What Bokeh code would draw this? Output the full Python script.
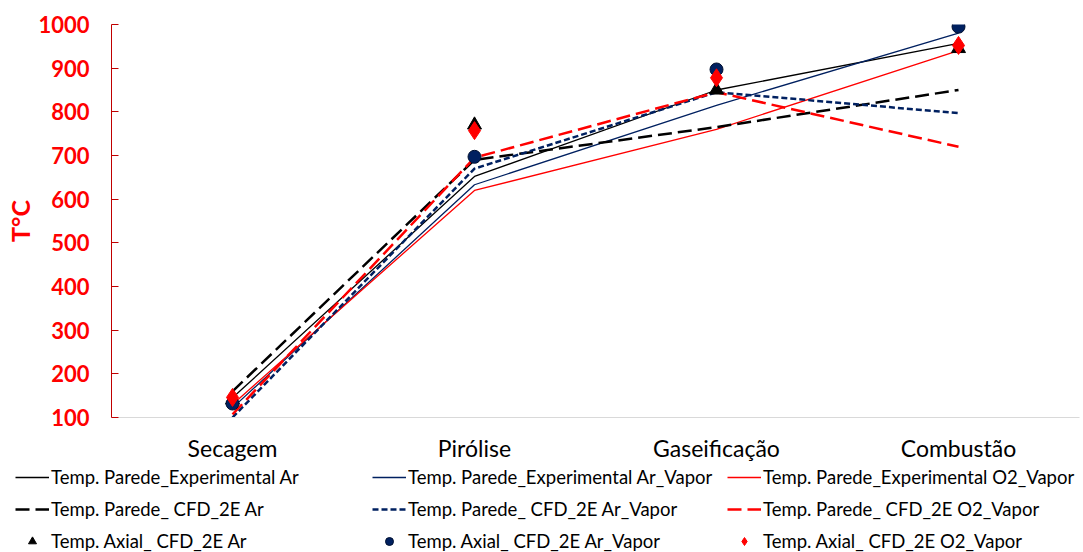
from bokeh.plotting import figure
from bokeh.models import Range1d, Legend, LegendItem
from bokeh.embed import file_html
from bokeh.resources import INLINE

categories = ["Secagem", "Pirólise", "Gaseificação", "Combustão"]

exp_ar = [145, 652, 850, 957]
exp_ar_vapor = [122, 633, 815, 980]
exp_o2_vapor = [130, 620, 760, 940]

cfd_ar = [160, 690, 765, 850]
cfd_ar_vapor = [100, 670, 845, 797]
cfd_o2_vapor = [107, 695, 845, 720]

axial_ar = [140, 770, 850, 945]
axial_ar_vapor = [132, 697, 897, 995]
axial_o2_vapor = [146, 757, 878, 952]

labels = [
    "Temp. Parede_Experimental Ar",
    "Temp. Parede_Experimental Ar_Vapor",
    "Temp. Parede_Experimental O2_Vapor",
    "Temp. Parede_ CFD_2E Ar",
    "Temp. Parede_ CFD_2E Ar_Vapor",
    "Temp. Parede_ CFD_2E O2_Vapor",
    "Temp. Axial_ CFD_2E Ar",
    "Temp. Axial_ CFD_2E Ar_Vapor",
    "Temp. Axial_ CFD_2E O2_Vapor",
]

NAVY = "#002060"
RED = "#FF0000"
BLACK = "#000000"
FONT = "Lato"

styles = [
    dict(kind="line", line_color=BLACK, line_width=1.3),
    dict(kind="line", line_color=NAVY, line_width=1.3),
    dict(kind="line", line_color=RED, line_width=1.3),
    dict(kind="line", line_color=BLACK, line_width=2.5, line_dash="14 6"),
    dict(kind="line", line_color=NAVY, line_width=2.5, line_dash="6 3"),
    dict(kind="line", line_color=RED, line_width=2.5, line_dash="14 6"),
    dict(kind="scatter", marker="triangle", size=14, fill_color=BLACK, line_color=BLACK),
    dict(kind="scatter", marker="circle", size=13, fill_color=NAVY, line_color="#001030"),
    dict(kind="scatter", marker="diamond", size=18, fill_color=RED, line_color=RED),
]
series = [exp_ar, exp_ar_vapor, exp_o2_vapor, cfd_ar, cfd_ar_vapor, cfd_o2_vapor,
          axial_ar, axial_ar_vapor, axial_o2_vapor]


def draw(fig, xs, ys, style):
    st = dict(style)
    kind = st.pop("kind")
    if kind == "line":
        return fig.line(xs, ys, **st)
    return fig.scatter(xs, ys, **st)


p = figure(x_range=categories, y_range=Range1d(100, 1000),
           width=1083, height=464, output_backend="svg", toolbar_location=None,
           min_border_left=111, min_border_right=4, min_border_top=24,
           min_border_bottom=47)
p.outline_line_color = None
p.xgrid.grid_line_color = None
p.ygrid.grid_line_color = None

p.yaxis.ticker = [100, 200, 300, 400, 500, 600, 700, 800, 900, 1000]
p.yaxis.axis_line_color = "#C00000"
p.yaxis.major_tick_line_color = "#C00000"
p.yaxis.major_tick_in = 7
p.yaxis.major_tick_out = 0
p.yaxis.minor_tick_line_color = None
p.yaxis.major_label_text_color = RED
p.yaxis.major_label_text_font = FONT
p.yaxis.major_label_text_font_style = "bold"
p.yaxis.major_label_text_font_size = "22px"
p.yaxis.major_label_standoff = 22
p.yaxis.axis_label = "T°C"
p.yaxis.axis_label_text_color = RED
p.yaxis.axis_label_text_font = FONT
p.yaxis.axis_label_text_font_style = "bold"
p.yaxis.axis_label_text_font_size = "25px"
p.yaxis.axis_label_standoff = 0

p.xaxis.axis_line_color = "#D9D9D9"
p.xaxis.major_tick_line_color = None
p.xaxis.major_tick_in = 0
p.xaxis.major_tick_out = 0
p.xaxis.minor_tick_line_color = None
p.xaxis.major_label_text_color = BLACK
p.xaxis.major_label_text_font = FONT
p.xaxis.major_label_text_font_size = "23px"
p.xaxis.major_label_standoff = 16

for ys, st in zip(series, styles):
    draw(p, categories, ys, st)

# Legend strip below the chart (separate root, so its frame spans the full width)
p2 = figure(x_range=Range1d(0, 1), y_range=Range1d(0, 1), width=1083, height=88,
            output_backend="svg", toolbar_location=None,
            x_axis_location=None, y_axis_location=None,
            min_border_left=0, min_border_right=0, min_border_top=0, min_border_bottom=0)
p2.outline_line_color = None
p2.xgrid.grid_line_color = None
p2.ygrid.grid_line_color = None

# proxies placed outside the visible range; they only provide legend swatches
legend_renderers = [draw(p2, [5], [5], st) for st in styles]
col_x = [15, 372, 727]
for c in range(3):
    items = [LegendItem(label=labels[c + 3 * r], renderers=[legend_renderers[c + 3 * r]])
             for r in range(3)]
    leg = Legend(items=items, location=(col_x[c], 0), orientation="vertical",
                 glyph_width=34, glyph_height=20, label_height=20,
                 spacing=10, label_standoff=2, padding=0, margin=0,
                 border_line_color=None, background_fill_alpha=0,
                 label_text_font=FONT, label_text_font_size="18.5px",
                 label_text_color=BLACK)
    p2.add_layout(leg, "center")

open("out.html", "w").write(file_html((p, p2), INLINE))
